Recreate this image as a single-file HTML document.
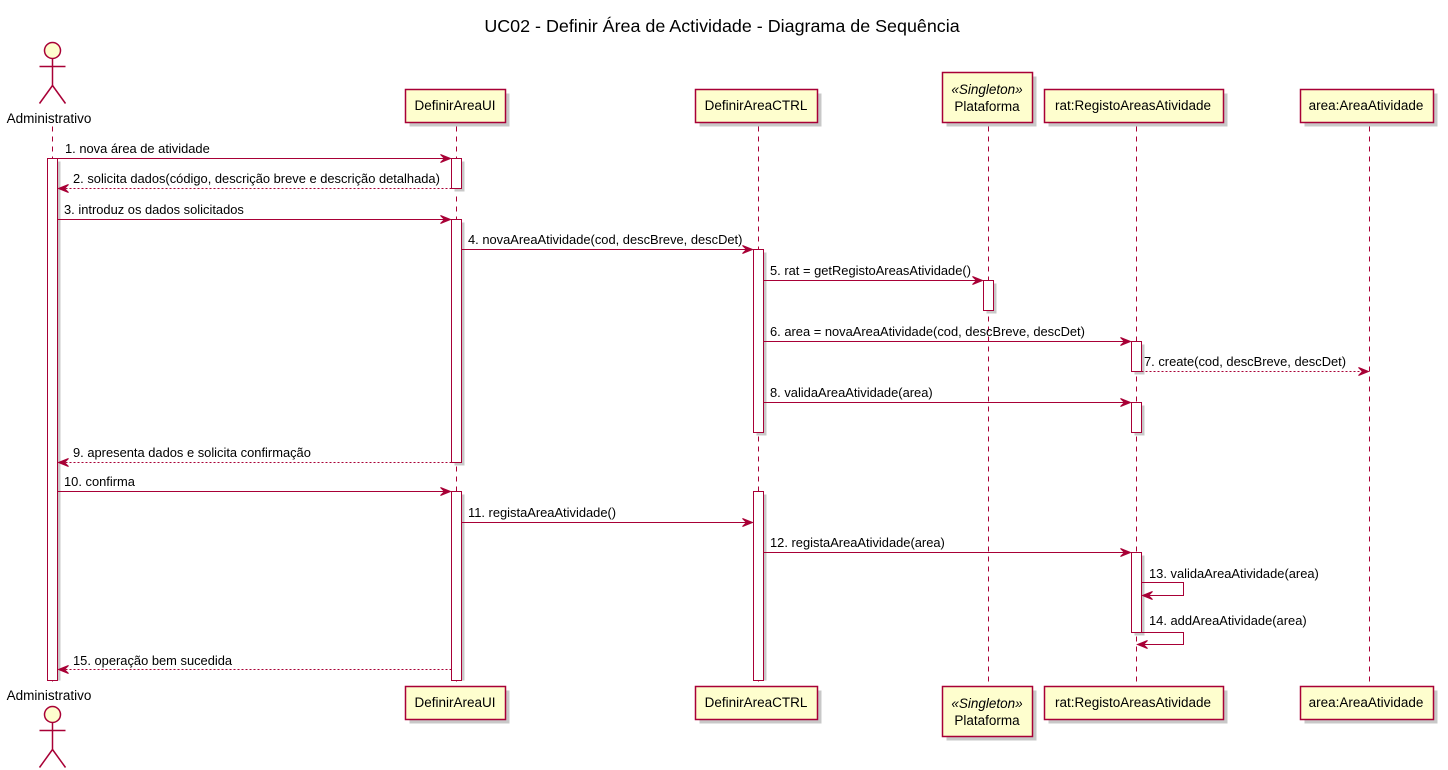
<!DOCTYPE html>
<html><head><meta charset="utf-8"><style>
html,body{margin:0;padding:0;background:#fff}
svg{display:block}
text{font-family:"Liberation Sans",sans-serif;font-size:12.9px;fill:#000}
.ll{stroke:#A80036;stroke-width:1;stroke-dasharray:5,5}
.box{fill:#FEFECE;stroke:#A80036;stroke-width:1.5}
.act{fill:#fff;stroke:#A80036;stroke-width:1}
.sh{fill:#c8c8c8}
.m{stroke:#A80036;stroke-width:1;fill:none}
.d{stroke:#A80036;stroke-width:1;fill:none;stroke-dasharray:2,2}
.ah{fill:#A80036;stroke:#A80036}
.pn{font-size:13.5px}
</style></head><body>
<svg width="1448" height="770" viewBox="0 0 1448 770" xmlns="http://www.w3.org/2000/svg">
<text x="722" y="32" text-anchor="middle" style="font-size:17.9px">UC02 - Definir Área de Actividade - Diagrama de Sequência</text>

<g transform="translate(0.5,0.5)">
<!-- lifelines -->
<line class="ll" x1="52" y1="126" x2="52" y2="686"/>
<line class="ll" x1="456" y1="126" x2="456" y2="686"/>
<line class="ll" x1="758" y1="126" x2="758" y2="686"/>
<line class="ll" x1="988" y1="126" x2="988" y2="686"/>
<line class="ll" x1="1136" y1="126" x2="1136" y2="686"/>
<line class="ll" x1="1369" y1="126" x2="1369" y2="686"/>

<!-- top actor -->
<g stroke="#A80036" stroke-width="1.5" fill="none">
<circle cx="52" cy="50" r="8" fill="#FEFECE"/>
<line x1="52" y1="58" x2="52" y2="85"/><line x1="39" y1="66" x2="65" y2="66"/>
<line x1="52" y1="85" x2="39" y2="103"/><line x1="52" y1="85" x2="65" y2="103"/>
</g>
<!-- bottom actor -->
<g stroke="#A80036" stroke-width="1.5" fill="none">
<circle cx="52" cy="714" r="8" fill="#FEFECE"/>
<line x1="52" y1="722" x2="52" y2="749"/><line x1="39" y1="730" x2="65" y2="730"/>
<line x1="52" y1="749" x2="39" y2="767"/><line x1="52" y1="749" x2="65" y2="767"/>
</g>

<!-- top boxes -->
<rect class="sh" x="409" y="93" width="100" height="33"/><rect class="box" x="405" y="89" width="100" height="33"/>
<rect class="sh" x="699" y="93" width="122" height="33"/><rect class="box" x="695" y="89" width="122" height="33"/>
<rect class="sh" x="946" y="76" width="90" height="50"/><rect class="box" x="942" y="72" width="90" height="50"/>
<rect class="sh" x="1048" y="93" width="179" height="33"/><rect class="box" x="1044" y="89" width="179" height="33"/>
<rect class="sh" x="1304" y="93" width="133" height="33"/><rect class="box" x="1300" y="89" width="133" height="33"/>
<!-- bottom boxes -->
<rect class="sh" x="409" y="690" width="100" height="33"/><rect class="box" x="405" y="686" width="100" height="33"/>
<rect class="sh" x="699" y="690" width="122" height="33"/><rect class="box" x="695" y="686" width="122" height="33"/>
<rect class="sh" x="946" y="690" width="90" height="50"/><rect class="box" x="942" y="686" width="90" height="50"/>
<rect class="sh" x="1048" y="690" width="179" height="33"/><rect class="box" x="1044" y="686" width="179" height="33"/>
<rect class="sh" x="1304" y="690" width="133" height="33"/><rect class="box" x="1300" y="686" width="133" height="33"/>

<!-- activations -->
<rect class="sh" x="50" y="161" width="10" height="519"/><rect class="act" x="47" y="158" width="10" height="522"/>
<rect class="sh" x="454" y="161" width="10" height="30"/><rect class="act" x="451" y="158" width="10" height="30"/>
<rect class="sh" x="454" y="222" width="10" height="243"/><rect class="act" x="451" y="219" width="10" height="243"/>
<rect class="sh" x="454" y="494" width="10" height="186"/><rect class="act" x="451" y="491" width="10" height="189"/>
<rect class="sh" x="756" y="252" width="10" height="183"/><rect class="act" x="753" y="249" width="10" height="183"/>
<rect class="sh" x="756" y="494" width="10" height="186"/><rect class="act" x="753" y="491" width="10" height="189"/>
<rect class="sh" x="986" y="283" width="10" height="30"/><rect class="act" x="983" y="280" width="10" height="30"/>
<rect class="sh" x="1134" y="344" width="10" height="30"/><rect class="act" x="1131" y="341" width="10" height="30"/>
<rect class="sh" x="1134" y="405" width="10" height="30"/><rect class="act" x="1131" y="402" width="10" height="30"/>
<rect class="sh" x="1134" y="555" width="10" height="80"/><rect class="act" x="1131" y="552" width="10" height="80"/>

<!-- messages -->
<line class="m" x1="57" y1="158" x2="450" y2="158"/><polygon class="ah" points="450,158 440,154 444,158 440,162"/>
<line class="d" x1="451" y1="188" x2="58" y2="188"/><polygon class="ah" points="58,188 68,184 64,188 68,192"/>
<line class="m" x1="57" y1="219" x2="450" y2="219"/><polygon class="ah" points="450,219 440,215 444,219 440,223"/>
<line class="m" x1="461" y1="249" x2="752" y2="249"/><polygon class="ah" points="752,249 742,245 746,249 742,253"/>
<line class="m" x1="763" y1="280" x2="982" y2="280"/><polygon class="ah" points="982,280 972,276 976,280 972,284"/>
<line class="m" x1="763" y1="341" x2="1130" y2="341"/><polygon class="ah" points="1130,341 1120,337 1124,341 1120,345"/>
<line class="d" x1="1141" y1="371" x2="1368" y2="371"/><polygon class="ah" points="1368,371 1358,367 1362,371 1358,375"/>
<line class="m" x1="763" y1="402" x2="1130" y2="402"/><polygon class="ah" points="1130,402 1120,398 1124,402 1120,406"/>
<line class="d" x1="451" y1="462" x2="58" y2="462"/><polygon class="ah" points="58,462 68,458 64,462 68,466"/>
<line class="m" x1="57" y1="491" x2="450" y2="491"/><polygon class="ah" points="450,491 440,487 444,491 440,495"/>
<line class="m" x1="461" y1="522" x2="752" y2="522"/><polygon class="ah" points="752,522 742,518 746,522 742,526"/>
<line class="m" x1="763" y1="552" x2="1130" y2="552"/><polygon class="ah" points="1130,552 1120,548 1124,552 1120,556"/>
<polyline class="m" points="1141,582 1183,582 1183,595 1142,595"/><polygon class="ah" points="1142,595 1152,591 1148,595 1152,599"/>
<polyline class="m" points="1141,632 1183,632 1183,644 1137,644"/><polygon class="ah" points="1137,644 1147,640 1143,644 1147,648"/>
<line class="d" x1="451" y1="669" x2="58" y2="669"/><polygon class="ah" points="58,669 68,665 64,669 68,673"/>
</g>

<text class="pn" x="49" y="123" text-anchor="middle">Administrativo</text>
<text class="pn" x="49" y="700" text-anchor="middle">Administrativo</text>
<text class="pn" x="455" y="110" text-anchor="middle">DefinirAreaUI</text>
<text class="pn" x="756" y="110" text-anchor="middle">DefinirAreaCTRL</text>
<text class="pn" x="987" y="94" text-anchor="middle" font-style="italic">«Singleton»</text>
<text class="pn" x="987" y="111" text-anchor="middle">Plataforma</text>
<text class="pn" x="1133" y="110" text-anchor="middle">rat:RegistoAreasAtividade</text>
<text class="pn" x="1366" y="110" text-anchor="middle">area:AreaAtividade</text>
<text class="pn" x="455" y="707" text-anchor="middle">DefinirAreaUI</text>
<text class="pn" x="756" y="707" text-anchor="middle">DefinirAreaCTRL</text>
<text class="pn" x="987" y="708" text-anchor="middle" font-style="italic">«Singleton»</text>
<text class="pn" x="987" y="725" text-anchor="middle">Plataforma</text>
<text class="pn" x="1133" y="707" text-anchor="middle">rat:RegistoAreasAtividade</text>
<text class="pn" x="1366" y="707" text-anchor="middle">area:AreaAtividade</text>

<text x="65" y="153">1. nova área de atividade</text>
<text x="73" y="183">2. solicita dados(código, descrição breve e descrição detalhada)</text>
<text x="64" y="214">3. introduz os dados solicitados</text>
<text x="468" y="244">4. novaAreaAtividade(cod, descBreve, descDet)</text>
<text x="770" y="275">5. rat = getRegistoAreasAtividade()</text>
<text x="770" y="336">6. area = novaAreaAtividade(cod, descBreve, descDet)</text>
<text x="1144" y="366">7. create(cod, descBreve, descDet)</text>
<text x="770" y="397">8. validaAreaAtividade(area)</text>
<text x="73" y="457">9. apresenta dados e solicita confirmação</text>
<text x="64" y="486">10. confirma</text>
<text x="468" y="517">11. registaAreaAtividade()</text>
<text x="770" y="547">12. registaAreaAtividade(area)</text>
<text x="1149" y="578">13. validaAreaAtividade(area)</text>
<text x="1149" y="625">14. addAreaAtividade(area)</text>
<text x="73" y="665">15. operação bem sucedida</text>
</svg>
</body></html>
